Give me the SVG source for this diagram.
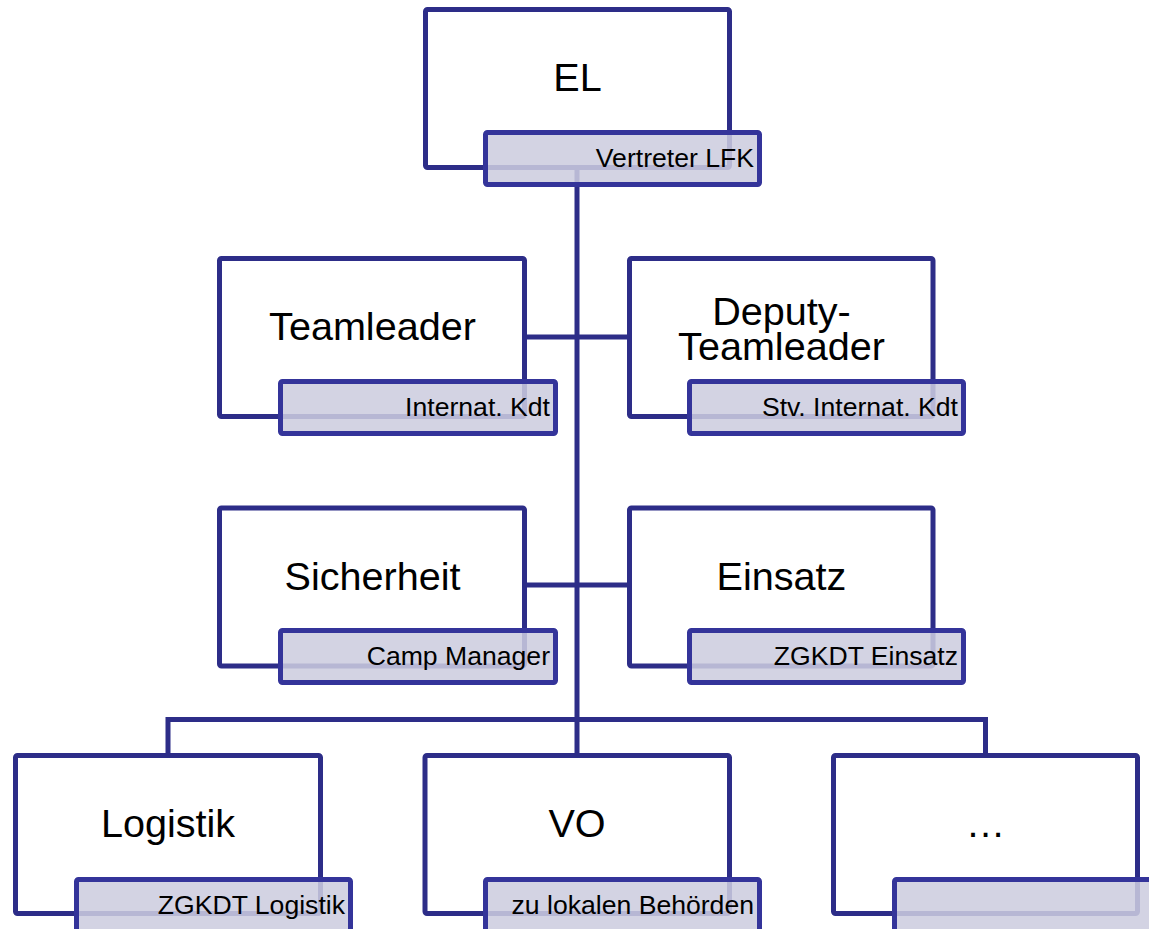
<svg xmlns="http://www.w3.org/2000/svg" width="1149" height="929" viewBox="0 0 1149 929">
<style>
.box{fill:#ffffff;stroke:#2d2d88;stroke-width:5;stroke-linejoin:round}
.sub{fill:rgb(205,205,223);fill-opacity:0.87;stroke:#34349a;stroke-width:5;stroke-linejoin:round}
.con{fill:none;stroke:#2d2d88;stroke-width:5}
.t{font-family:"Liberation Sans",Arial,sans-serif;font-size:39.6px;fill:#000;text-anchor:middle}
.s{font-family:"Liberation Sans",Arial,sans-serif;font-size:26.6px;fill:#000;text-anchor:end}
</style>
<rect width="1149" height="929" fill="#ffffff"/>
<g id="connectors">
<path class="con" d="M577 167.5V755.5"/>
<path class="con" d="M524.5 337H629.5"/>
<path class="con" d="M524.5 585H629.5"/>
<path class="con" d="M168 755.5V719.5H985.5V755.5"/>
</g>
<g id="node-el">
<rect class="box" x="425.5" y="9.5" width="304" height="158" rx="2"/>
<text class="t" x="577.5" y="91">EL</text>
<rect class="sub" x="485.5" y="132.5" width="274" height="52" rx="2"/>
<text class="s" x="754" y="166.5">Vertreter LFK</text>
</g>
<g id="node-teamleader">
<rect class="box" x="219.5" y="258.5" width="305" height="158" rx="2"/>
<text class="t" x="372.5" y="340">Teamleader</text>
<rect class="sub" x="280.5" y="381.5" width="275" height="52" rx="2"/>
<text class="s" x="550" y="415.5">Internat. Kdt</text>
</g>
<g id="node-deputy">
<rect class="box" x="629.5" y="258.5" width="303.5" height="158" rx="2"/>
<text class="t" x="781.5" y="325"><tspan x="781.5" y="325">Deputy-</tspan><tspan x="781.5" y="360">Teamleader</tspan></text>
<rect class="sub" x="689.5" y="381.5" width="274" height="52" rx="2"/>
<text class="s" x="958" y="415.5">Stv. Internat. Kdt</text>
</g>
<g id="node-sicherheit">
<rect class="box" x="219.5" y="508" width="305" height="158" rx="2"/>
<text class="t" x="372.5" y="589.5">Sicherheit</text>
<rect class="sub" x="280.5" y="630.5" width="275" height="52" rx="2"/>
<text class="s" x="550" y="664.5">Camp Manager</text>
</g>
<g id="node-einsatz">
<rect class="box" x="629.5" y="508" width="303.5" height="158" rx="2"/>
<text class="t" x="781.5" y="589.5">Einsatz</text>
<rect class="sub" x="689.5" y="630.5" width="274" height="52" rx="2"/>
<text class="s" x="958" y="664.5">ZGKDT Einsatz</text>
</g>
<g id="node-logistik">
<rect class="box" x="15.5" y="755.5" width="305" height="158" rx="2"/>
<text class="t" x="168" y="837">Logistik</text>
<rect class="sub" x="76.5" y="879.5" width="274" height="52" rx="2"/>
<text class="s" x="345" y="913.5">ZGKDT Logistik</text>
</g>
<g id="node-vo">
<rect class="box" x="425" y="755.5" width="304.5" height="158" rx="2"/>
<text class="t" x="577" y="837">VO</text>
<rect class="sub" x="485.5" y="879.5" width="274" height="52" rx="2"/>
<text class="s" x="754" y="913.5">zu lokalen Behörden</text>
</g>
<g id="node-more">
<rect class="box" x="833.5" y="755.5" width="304" height="158" rx="2"/>
<text class="t" x="985.5" y="837">…</text>
<rect class="sub" x="894.5" y="879.5" width="274" height="52" rx="2"/>
</g>
</svg>
